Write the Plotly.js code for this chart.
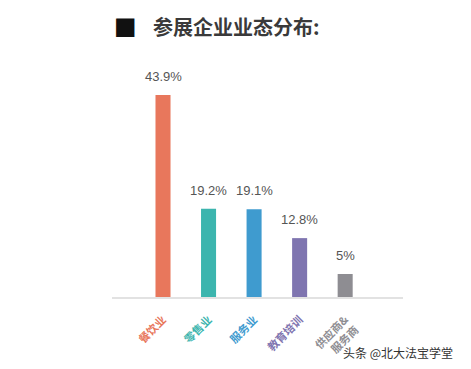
<!DOCTYPE html>
<html><head><meta charset="utf-8">
<script src="https://cdn.plot.ly/plotly-3.0.1.min.js"></script>
<style>html,body{margin:0;padding:0;background:#fff;}#chart{width:471px;height:369px;}</style>
</head><body><div id="chart"></div>
<script>
const categories = ['餐饮业', '零售业', '服务业', '教育培训', '供应商&<br>服务商'];
const values = [43.9, 19.2, 19.1, 12.8, 5];
const valueLabels = ['43.9%', '19.2%', '19.1%', '12.8%', '5%'];
const colors = ['#E8775C', '#3CB5AE', '#3F9BCF', '#7F75B0', '#8E8D92'];
const titleText = '参展企业业态分布:';
const watermark = '头条 @北大法宝学堂';

const idx = categories.map((_, i) => i);
const trace = {
  type: 'bar',
  x: idx,
  y: values,
  width: 0.33,
  marker: {color: colors, line: {width: 0}},
  hoverinfo: 'none'
};
const annotations = idx.map(i => ({
  x: i, y: values[i], xref: 'x', yref: 'y',
  text: valueLabels[i], showarrow: false,
  yanchor: 'bottom', yshift: 9,
  font: {family: 'Liberation Sans, Noto Sans CJK SC', size: 13, color: '#555'}
}));
annotations.push({
  xref: 'paper', yref: 'paper', x: 0.0, y: 1.178, xanchor: 'left', yanchor: 'middle',
  text: '■', showarrow: false,
  font: {family: 'DejaVu Sans', size: 24, color: '#111'}
});
annotations.push({
  xref: 'paper', yref: 'paper', x: 0.135, y: 1.178, xanchor: 'left', yanchor: 'middle',
  text: '<b>' + titleText + '</b>', showarrow: false,
  font: {family: 'Noto Sans CJK SC', size: 20, color: '#3a3a3a'}
});
annotations.push({
  xref: 'paper', yref: 'paper', x: 1.18, y: -0.24, xanchor: 'right', yanchor: 'middle',
  text: watermark, showarrow: false,
  font: {family: 'Noto Sans CJK SC', size: 12, color: '#333'}
});

const layout = {
  width: 471, height: 369,
  margin: {l: 112, r: 68, t: 67, b: 72},
  paper_bgcolor: '#fff', plot_bgcolor: '#fff',
  showlegend: false,
  xaxis: {
    range: [-1.12, 5.27],
    tickvals: idx,
    ticktext: categories.map((c, i) => '<span style="color:' + colors[i] + '"><b>' + c + '</b></span>'),
    tickangle: -45,
    ticklabelstandoff: 10,
    tickfont: {family: 'Noto Sans CJK SC', size: 11, color: '#888'},
    showline: true, linecolor: '#e2e2e2', linewidth: 2,
    showgrid: false, zeroline: false, ticks: '', fixedrange: true
  },
  yaxis: {
    range: [0, 50], visible: false, showgrid: false, zeroline: false, fixedrange: true
  },
  annotations: annotations
};
Plotly.newPlot('chart', [trace], layout, {displayModeBar: false, staticPlot: true});
</script>
</body></html>
